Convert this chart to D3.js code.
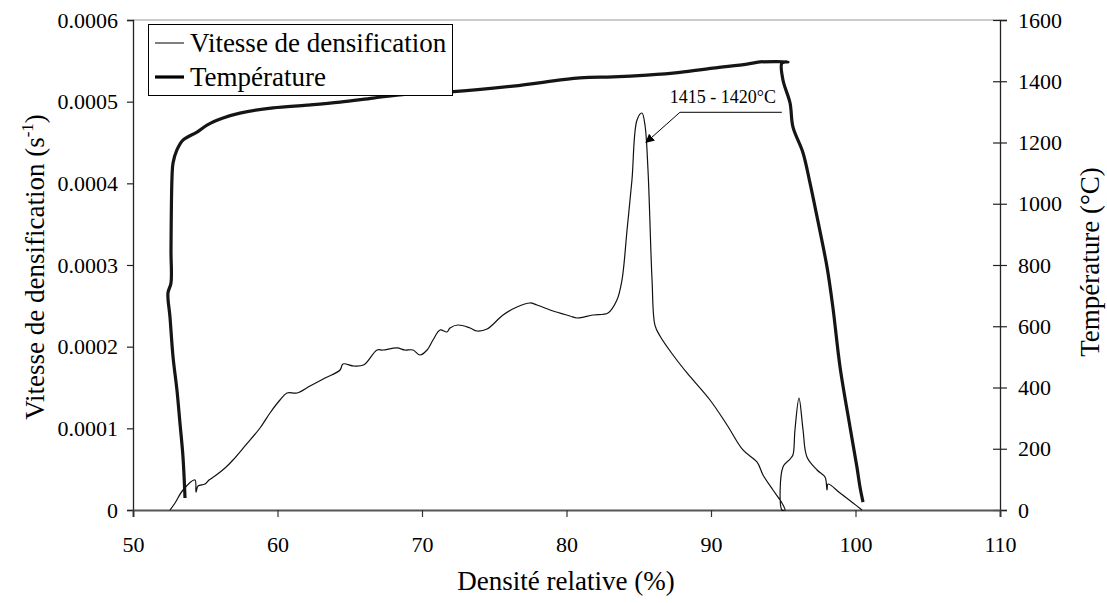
<!DOCTYPE html>
<html><head><meta charset="utf-8">
<script src="https://cdn.jsdelivr.net/npm/d3@7"></script>
<style>body{margin:0;background:#fff}</style>
</head><body><svg id="c" width="1107" height="603"></svg>
<script>
const xTicks = [50,60,70,80,90,100,110];
const yLeftTicks = [0,0.0001,0.0002,0.0003,0.0004,0.0005,0.0006];
const yRightTicks = [0,200,400,600,800,1000,1200,1400,1600];

// Vitesse de densification : densité relative (%), vitesse (s^-1)
const speedX = [52.56,52.91,53.46,54.29,54.36,54.50,54.98,55.26,55.67,56.37,56.92,57.75,58.79,59.48,60.17,60.66,61.35,62.25,63.29,64.33,64.53,65.29,65.99,66.89,67.30,68.27,68.82,69.38,69.86,70.35,70.76,71.25,71.73,71.94,72.49,73.32,73.81,74.50,75.61,76.57,77.47,77.96,79.07,80.24,80.73,81.83,82.87,83.49,83.84,84.19,84.53,84.88,85.22,85.43,85.64,85.92,86.12,86.47,87.37,88.34,89.93,91.11,92.21,93.18,93.60,94.29,94.91,95.12,94.91,94.98,95.47,95.67,95.81,96.09,96.37,96.64,97.34,97.89,98.03,98.10,98.93,99.83,100.45];
const speedV = [0,0.0000086,0.0000245,0.0000367,0.000022,0.0000294,0.0000318,0.0000367,0.0000416,0.0000514,0.0000612,0.0000784,0.0001004,0.0001188,0.0001347,0.0001433,0.0001433,0.0001518,0.0001616,0.0001714,0.0001788,0.0001763,0.0001779,0.0001959,0.0001959,0.0001984,0.0001959,0.0001959,0.0001898,0.0001959,0.0002082,0.0002204,0.000218,0.0002229,0.0002265,0.0002229,0.0002192,0.0002216,0.0002388,0.0002486,0.0002535,0.000251,0.0002437,0.0002376,0.0002351,0.0002388,0.0002412,0.0002571,0.0002816,0.0003429,0.0004041,0.0004776,0.0004861,0.0004714,0.0004163,0.0002816,0.0002265,0.0002131,0.0001898,0.0001678,0.0001347,0.0001041,0.0000735,0.0000588,0.0000429,0.0000245,0.0000086,0,0,0.0000527,0.0000624,0.0000673,0.000098,0.0001371,0.000098,0.0000649,0.000049,0.0000404,0.0000245,0.0000318,0.0000208,0.0000086,0];

// Température : densité relative (%), température (°C)
const tempX = [53.60,53.46,53.25,53.04,52.77,52.56,52.42,52.63,52.63,52.70,52.77,53.04,53.46,54.43,55.12,56.23,57.40,59.69,62.04,64.33,66.61,68.96,71.94,76.30,80.93,83.22,85.57,87.85,90.14,92.49,93.39,95.33,94.91,94.98,95.47,95.67,96.37,96.85,97.34,98.03,98.44,98.93,99.62,100.10,100.31,100.52];
const tempT = [39,173,284,392,500,630,709,741,849,1087,1133,1176,1208,1234,1257,1280,1296,1313,1322,1332,1345,1358,1365,1384,1411,1414,1420,1429,1443,1456,1463,1463,1460,1404,1329,1251,1166,1068,957,793,660,467,271,140,75,26];

const legendLabels = ["Vitesse de densification","Température"];
const annotationText = "1415 - 1420°C";

const FONT = "Liberation Serif";
const svg = d3.select("#c").attr("font-family", FONT);
const L=133, R=1000, T=20, B=510;
const x = d3.scaleLinear().domain([50,110]).range([L,R]);
const yL = d3.scaleLinear().domain([0,0.0006]).range([B,T]);
const yR = d3.scaleLinear().domain([0,1600]).range([B,T]);

function styleAxis(g){
  g.attr("font-family", FONT).attr("font-size",22);
  g.selectAll("text").attr("fill","#000");
}

// top border
svg.append("line").attr("x1",L).attr("x2",R).attr("y1",T).attr("y2",T).attr("stroke","#999").attr("stroke-width",1.2);

// left axis
const gL = svg.append("g").attr("transform",`translate(${L},0)`)
  .call(d3.axisLeft(yL).tickValues(yLeftTicks).tickSize(6).tickPadding(9).tickFormat(d=>d===0?"0":d3.format(".4f")(d)));
gL.select(".domain").attr("stroke","#222").attr("stroke-width",1.3);
gL.selectAll(".tick line").attr("stroke","#222").attr("stroke-width",1.2);
styleAxis(gL);

// right axis
const gR = svg.append("g").attr("transform",`translate(${R},0)`)
  .call(d3.axisRight(yR).tickValues(yRightTicks).tickSize(7).tickPadding(11).tickFormat(d3.format("d")));
gR.select(".domain").attr("stroke","#222").attr("stroke-width",1.3);
gR.selectAll(".tick line").attr("x1",-7).attr("stroke","#222").attr("stroke-width",1.2);
styleAxis(gR);

// bottom axis
const gB = svg.append("g").attr("transform",`translate(0,${B})`)
  .call(d3.axisBottom(x).tickValues(xTicks).tickSize(7).tickPadding(19));
gB.select(".domain").attr("stroke","#555").attr("stroke-width",2);
gB.selectAll(".tick line").attr("stroke","#333").attr("stroke-width",1.2);
styleAxis(gB);

// axis titles
svg.append("text").attr("x",566).attr("y",590).attr("text-anchor","middle").attr("font-size",27).text("Densité relative (%)");
const yt = svg.append("text").attr("transform","translate(44,267) rotate(-90)").attr("text-anchor","middle").attr("font-size",27);
yt.append("tspan").text("Vitesse de densification (s");
yt.append("tspan").attr("font-size",17).attr("dy",-11).text("-1");
yt.append("tspan").attr("dy",11).text(")");
svg.append("text").attr("transform","translate(1099,262) rotate(-90)").attr("text-anchor","middle").attr("font-size",27).text("Température (°C)");

// data lines
const speedData = speedX.map((d,i)=>[d,speedV[i]]);
const tempData = tempX.map((d,i)=>[d,tempT[i]]);
svg.append("path").datum(tempData).attr("fill","none").attr("stroke","#151515").attr("stroke-width",3.2).attr("stroke-linejoin","round")
  .attr("d", d3.line().x(d=>x(d[0])).y(d=>yR(d[1])).curve(d3.curveCatmullRom.alpha(0.5)));
svg.append("path").datum(speedData).attr("fill","none").attr("stroke","#111").attr("stroke-width",1.2).attr("stroke-linejoin","round")
  .attr("d", d3.line().x(d=>x(d[0])).y(d=>yL(d[1])).curve(d3.curveCatmullRom.alpha(0.5)));

// annotation
const tipX = x(85.5), tipY = yL(0.00045);
const elbowX = x(87.85), elbowY = yL(0.000487), endX = x(94.9);
svg.append("defs").append("marker").attr("id","arr").attr("viewBox","0 0 10 10").attr("refX",9).attr("refY",5)
  .attr("markerWidth",9).attr("markerHeight",9).attr("orient","auto").attr("markerUnits","userSpaceOnUse")
  .append("path").attr("d","M0,0 L10,5 L0,10 z").attr("fill","#000");
svg.append("line").attr("x1",endX).attr("y1",elbowY).attr("x2",elbowX).attr("y2",elbowY).attr("stroke","#000").attr("stroke-width",1);
svg.append("line").attr("x1",elbowX).attr("y1",elbowY).attr("x2",tipX).attr("y2",tipY).attr("stroke","#000").attr("stroke-width",1).attr("marker-end","url(#arr)");
svg.append("text").attr("x",(elbowX+endX)/2 - 8).attr("y",elbowY-9).attr("text-anchor","middle").attr("font-size",18).text(annotationText);

// legend
const lg = svg.append("g");
lg.append("rect").attr("x",148.5).attr("y",24.5).attr("width",304).attr("height",71).attr("fill","#fff").attr("stroke","#000").attr("stroke-width",1);
legendLabels.forEach((t,i)=>{
  const yy = 43 + i*34;
  lg.append("line").attr("x1",155).attr("x2",184).attr("y1",yy).attr("y2",yy).attr("stroke","#000").attr("stroke-width",i===0?1:3.2);
  lg.append("text").attr("x",190).attr("y",yy+9).attr("font-size",27).text(t);
});
</script></body></html>
